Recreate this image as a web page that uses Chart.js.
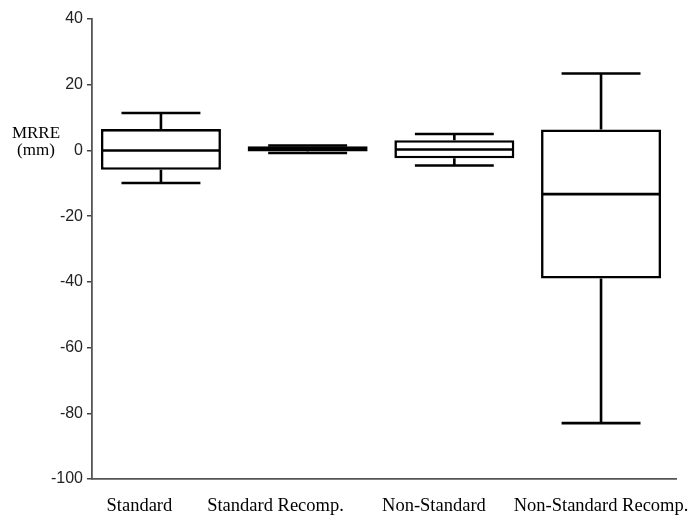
<!DOCTYPE html>
<html>
<head>
<meta charset="utf-8">
<script src="https://cdn.jsdelivr.net/npm/chart.js@4/dist/chart.umd.min.js"></script>
<style>
html,body{margin:0;padding:0;background:#fff;}
#wrap{width:693px;height:516px;position:relative;}
</style>
</head>
<body>
<div id="wrap"><canvas id="c"></canvas></div>
<script>
// Data (MRRE, mm)
const categories = ['Standard', 'Standard Recomp.', 'Non-Standard', 'Non-Standard Recomp.'];
const q1Values = [-5.9, -0.3, -2.4, -39.0];
const q3Values = [6.5, 1.3, 3.1, 6.4];
const medianValues = [0, 0.3, 0.3, -13.3];
const minValues = [-9.9, -0.8, -4.6, -83.0];
const maxValues = [11.4, 1.5, 5.0, 23.4];
const yTickValues = [40, 20, 0, -20, -40, -60, -80, -100];
// where the category labels sit along the x axis (in category units)
const labelPositions = [-0.147, 0.781, 1.861, 3.0];
const yAxisTitle = ['MRRE', '(mm)'];

const BOX_FRACTION = 0.818;   // box width as a fraction of the category spacing
const CAP_FRACTION = 0.538;   // whisker cap width as a fraction of the category spacing

const boxes = categories.map((c, i) => ({ x: i, y: [q1Values[i], q3Values[i]] }));

// Chart.js measures bar room from the smallest gap between values and ticks
let minGap = 1;
for (let i = 1; i < labelPositions.length; i++) {
  minGap = Math.min(minGap, Math.abs(labelPositions[i] - labelPositions[i - 1]));
}

const whiskerPlugin = {
  id: 'whiskers',
  afterDatasetsDraw(chart) {
    const ctx = chart.ctx;
    const xs = chart.scales.x, ys = chart.scales.y;
    const unit = xs.getPixelForValue(1) - xs.getPixelForValue(0);
    const capHalf = unit * CAP_FRACTION / 2;
    const boxHalf = unit * BOX_FRACTION / 2;
    ctx.save();
    ctx.strokeStyle = '#000';
    ctx.lineWidth = 2.6;
    ctx.lineCap = 'butt';
    categories.forEach((c, i) => {
      const cx = xs.getPixelForValue(i);
      const yMax = ys.getPixelForValue(maxValues[i]);
      const yMin = ys.getPixelForValue(minValues[i]);
      const yQ3 = ys.getPixelForValue(q3Values[i]);
      const yQ1 = ys.getPixelForValue(q1Values[i]);
      const yMed = ys.getPixelForValue(medianValues[i]);
      ctx.beginPath();
      ctx.moveTo(cx, yQ3); ctx.lineTo(cx, yMax);
      ctx.moveTo(cx - capHalf, yMax); ctx.lineTo(cx + capHalf, yMax);
      ctx.moveTo(cx, yQ1); ctx.lineTo(cx, yMin);
      ctx.moveTo(cx - capHalf, yMin); ctx.lineTo(cx + capHalf, yMin);
      ctx.moveTo(cx - boxHalf + 1, yMed); ctx.lineTo(cx + boxHalf - 1, yMed);
      ctx.stroke();
    });
    ctx.restore();
  }
};

const yTitlePlugin = {
  id: 'yTitle',
  afterDraw(chart) {
    const ctx = chart.ctx;
    const ys = chart.scales.y;
    const y0 = ys.getPixelForValue(0);
    ctx.save();
    ctx.fillStyle = '#000';
    ctx.font = '17px "Liberation Serif", "Times New Roman", serif';
    ctx.textAlign = 'center';
    ctx.textBaseline = 'middle';
    ctx.fillText(yAxisTitle[0], 36, y0 - 17);
    ctx.fillText(yAxisTitle[1], 36, y0);
    ctx.restore();
  }
};

new Chart(document.getElementById('c'), {
  type: 'bar',
  data: {
    datasets: [{
      data: boxes,
      backgroundColor: '#fff',
      borderColor: '#000',
      borderWidth: 2.6,
      borderSkipped: false,
      categoryPercentage: BOX_FRACTION / minGap,
      barPercentage: 1.0
    }]
  },
  options: {
    responsive: true,
    maintainAspectRatio: false,
    animation: false,
    layout: { padding: { left: 0, right: 17, top: 19, bottom: 0 } },
    plugins: { legend: { display: false }, tooltip: { enabled: false } },
    scales: {
      x: {
        type: 'linear',
        min: -0.470,
        max: 3.511,
        offset: false,
        grid: { display: false, drawTicks: false, offset: false },
        border: { display: true, color: '#555', width: 1.8 },
        afterBuildTicks(scale) { scale.ticks = labelPositions.map(v => ({ value: v })); },
        afterFit(scale) { scale.height = 37; scale.paddingLeft = 0; scale.paddingRight = 0; },
        ticks: {
          autoSkip: false,
          maxRotation: 0,
          minRotation: 0,
          padding: 16,
          color: '#000',
          font: { family: '"Liberation Serif", "Times New Roman", serif', size: 18.5 },
          callback: (v, i) => categories[i]
        }
      },
      y: {
        min: -100,
        max: 40,
        afterBuildTicks(scale) { scale.ticks = yTickValues.map(v => ({ value: v })); },
        afterFit(scale) { scale.width = 92; scale.paddingTop = 0; scale.paddingBottom = 0; },
        grid: { display: true, drawOnChartArea: false, drawTicks: true, tickLength: 5, color: '#444', lineWidth: 1.5 },
        border: { display: true, color: '#555', width: 1.8 },
        ticks: {
          padding: 4,
          color: '#222',
          font: { family: '"Liberation Sans", Arial, sans-serif', size: 16 }
        }
      }
    }
  },
  plugins: [whiskerPlugin, yTitlePlugin]
});
</script>
</body>
</html>
